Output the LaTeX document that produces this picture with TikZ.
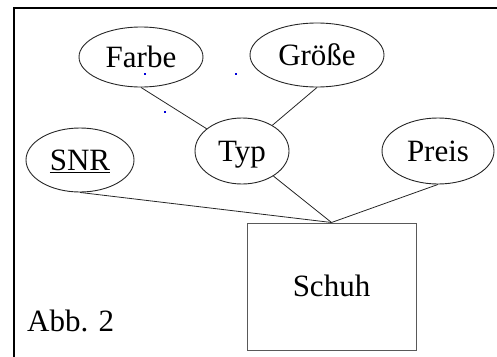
\documentclass[tikz,border=0pt]{standalone}
\usepackage{fontspec}
\setmainfont{Liberation Serif}
\usetikzlibrary{shapes.geometric}
\begin{document}
\begin{tikzpicture}[x=1pt,y=-1pt,
  attr/.style={draw=black!85,line width=0.9pt,ellipse,inner sep=0pt,
    text height=20pt,text depth=0pt,font=\fontsize{31}{36}\selectfont},
  entity/.style={draw=black!65,line width=1pt,rectangle,inner sep=0pt,
    text height=20pt,text depth=0pt,font=\fontsize{31}{36}\selectfont,
    minimum width=169pt,minimum height=127pt},
  link/.style={draw=black!85,line width=0.8pt},
  frame/.style={line width=2.3pt,line join=miter},
  speck/.style={fill=blue!85!black}]
\useasboundingbox (0,0) rectangle (497,356);
\draw[frame] (14,357) -- (14,8) -- (498,8);

\node[attr,minimum width=124pt,minimum height=60pt] (farbe) at (141,57) {Farbe};
\node[attr,minimum width=134pt,minimum height=64pt] (groesse) at (317,55) {Größe};
\node[attr,minimum width=108pt,minimum height=64pt] (snr) at (80,160) {\underline{SNR}};
\node[attr,minimum width=94pt,minimum height=66pt] (typ) at (242,151) {Typ};
\node[attr,minimum width=112pt,minimum height=66pt] (preis) at (438,151) {Preis};
\node[entity] (schuh) at (331.5,286.5) {Schuh};
\node[anchor=base west,inner sep=0pt,font=\fontsize{31}{36}\selectfont] (abb) at (27,331) {Abb. 2};

\draw[link] (farbe.south) -- (typ);
\draw[link] (groesse.south) -- (typ);
\draw[link] (typ) -- (schuh.north);
\draw[link] (snr.south) -- (schuh.north);
\draw[link] (preis.south) -- (schuh.north);

\fill[speck] (144.3,73.3) rectangle ++(1.4,1.4);
\fill[speck] (235.3,73.3) rectangle ++(1.4,1.4);
\fill[speck] (164.3,111.3) rectangle ++(1.4,1.4);
\end{tikzpicture}
\end{document}
